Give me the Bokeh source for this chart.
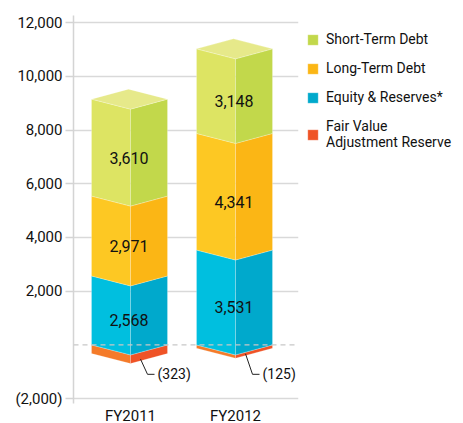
from bokeh.plotting import figure
from bokeh.models import (FixedTicker, Span, Legend, LegendItem, LinearAxis, Range1d)
from bokeh.core.properties import value
from bokeh.embed import file_html
from bokeh.resources import INLINE

years = ["FY2011", "FY2012"]
equity = [2568, 3531]
long_term = [2971, 4341]
short_term = [3610, 3148]
fair_value = [-323, -125]
y_ticks = [-2000, 2000, 4000, 6000, 8000, 10000, 12000]
y_tick_labels = ["(2,000)", "2,000", "4,000", "6,000", "8,000", "10,000", "12,000"]
series_names = ["Short-Term Debt", "Long-Term Debt", "Equity & Reserves*", "Fair Value\nAdjustment Reserve"]

FONT = "Roboto"
# layout constants
xc = [57, 162]          # front corner x of each box (plot units)
WL, WR = 39, 37         # left / right face widths
D = 372                 # depth offset in data units

colors = {
    "short": ("#dde463", "#c2d84b"),
    "long": ("#fdc823", "#fbb615"),
    "equity": ("#00bfdf", "#00a9cc"),
    "fair": ("#f47b2a", "#ef5326"),
}
top_color = "#e6e98a"

p = figure(frame_width=225, frame_height=388, output_backend="svg", toolbar_location=None,
           x_range=Range1d(0, 225), y_range=Range1d(-2180, 12262),
           min_border_left=73, min_border_top=15, min_border_bottom=18, min_border_right=165)
p.outline_line_color = None
p.background_fill_color = "white"

# axes
p.xaxis.visible = False
p.yaxis.ticker = FixedTicker(ticks=y_ticks)
p.yaxis.major_label_overrides = {t: l for t, l in zip(y_ticks, y_tick_labels)}
p.yaxis.major_label_text_font = FONT
p.yaxis.major_label_text_font_size = "15px"
p.yaxis.major_label_text_color = "#111111"
p.yaxis.major_label_standoff = 3
p.yaxis.axis_line_color = "#d4d4d4"
p.yaxis.axis_line_width = 1.5
p.yaxis.major_tick_line_color = "#d4d4d4"
p.yaxis.major_tick_line_width = 1.5
p.yaxis.major_tick_out = 8
p.yaxis.major_tick_in = 0
p.yaxis.minor_tick_line_color = None
p.xgrid.visible = False
p.ygrid.ticker = FixedTicker(ticks=y_ticks)
p.ygrid.grid_line_color = "#d9d9d9"
p.ygrid.grid_line_width = 1.5

xax = LinearAxis(ticker=FixedTicker(ticks=xc),
                 major_label_overrides={c: y for c, y in zip(xc, years)})
xax.axis_line_color = None
xax.major_tick_line_color = None
xax.minor_tick_line_color = None
xax.major_tick_out = 0
xax.major_label_standoff = 3
xax.major_label_text_font = FONT
xax.major_label_text_font_size = "15px"
xax.major_label_text_color = "#111111"
p.add_layout(xax, "below")

p.add_layout(Span(location=0, dimension="width", line_color="#c8c8c8",
                  line_dash="5 4", line_width=1.2))

def faces(c, y0, y1):
    L, R = c - WL, c + WR
    left = ([L, c, c, L], [y0, y0 - D, y1 - D, y1])
    right = ([c, R, R, c], [y0 - D, y0, y1, y1 - D])
    return left, right

renderers = {}
segs = {"short": [], "long": [], "equity": [], "fair": []}
for i, c in enumerate(xc):
    e, l, s, f = equity[i], long_term[i], short_term[i], fair_value[i]
    segs["fair"].append((c, f, 0))
    segs["equity"].append((c, 0, e))
    segs["long"].append((c, e, e + l))
    segs["short"].append((c, e + l, e + l + s))

for key in ["fair", "equity", "long", "short"]:
    lx, ly, rx, ry = [], [], [], []
    for (c, y0, y1) in segs[key]:
        (a, b), (cc, dd) = faces(c, y0, y1)
        lx.append(a); ly.append(b); rx.append(cc); ry.append(dd)
    p.patches(lx, ly, fill_color=colors[key][0], line_color="white", line_width=0.4, line_alpha=0.6)
    r2 = p.patches(rx, ry, fill_color=colors[key][1], line_color="white", line_width=0.4, line_alpha=0.6)
    renderers[key] = r2

# top faces
tx, ty = [], []
for i, c in enumerate(xc):
    t = equity[i] + long_term[i] + short_term[i]
    L, R = c - WL, c + WR
    tx.append([L, c, R, L + R - c])
    ty.append([t, t - D, t, t + D])
p.patches(tx, ty, fill_color=top_color, line_color="white", line_width=0.4, line_alpha=0.6)

# value labels
lab_x, lab_y, lab_t = [], [], []
for i, c in enumerate(xc):
    e, l, s = equity[i], long_term[i], short_term[i]
    for y0, v in [(0, e), (e, l), (e + l, s)]:
        lab_x.append(c - 1.5)
        lab_y.append(y0 + v / 2 - D)
        lab_t.append(f"{v:,}")
p.text(lab_x, lab_y, text=lab_t, text_align="center", text_baseline="middle",
       text_font=value(FONT), text_font_size="16px", text_color="#111111")

# negative labels with leaders
BEND_Y = -1094
for i, c in enumerate(xc):
    f = fair_value[i]
    sy = f - D * 0.55
    p.line([c + 10, c + 17, c + 24], [sy, BEND_Y, BEND_Y], line_color="#222222", line_width=1)
    p.text([c + 27], [BEND_Y], text=[f"({abs(f):,})"], text_align="left", text_baseline="middle",
           text_font=value(FONT), text_font_size="14px", text_color="#111111")

items = [LegendItem(label=series_names[0], renderers=[renderers["short"]]),
         LegendItem(label=series_names[1], renderers=[renderers["long"]]),
         LegendItem(label=series_names[2], renderers=[renderers["equity"]]),
         LegendItem(label=series_names[3], renderers=[renderers["fair"]])]
legend = Legend(items=items, location=(8, 253), border_line_color=None,
                background_fill_alpha=0, padding=0, margin=0,
                glyph_width=13, glyph_height=13, label_height=16, spacing=13,
                label_standoff=7, label_text_font=FONT, label_text_font_size="14px",
                label_text_line_height=1.25,
                label_text_color="#111111")
p.add_layout(legend, "right")

open("out.html", "w").write(file_html(p, INLINE))
